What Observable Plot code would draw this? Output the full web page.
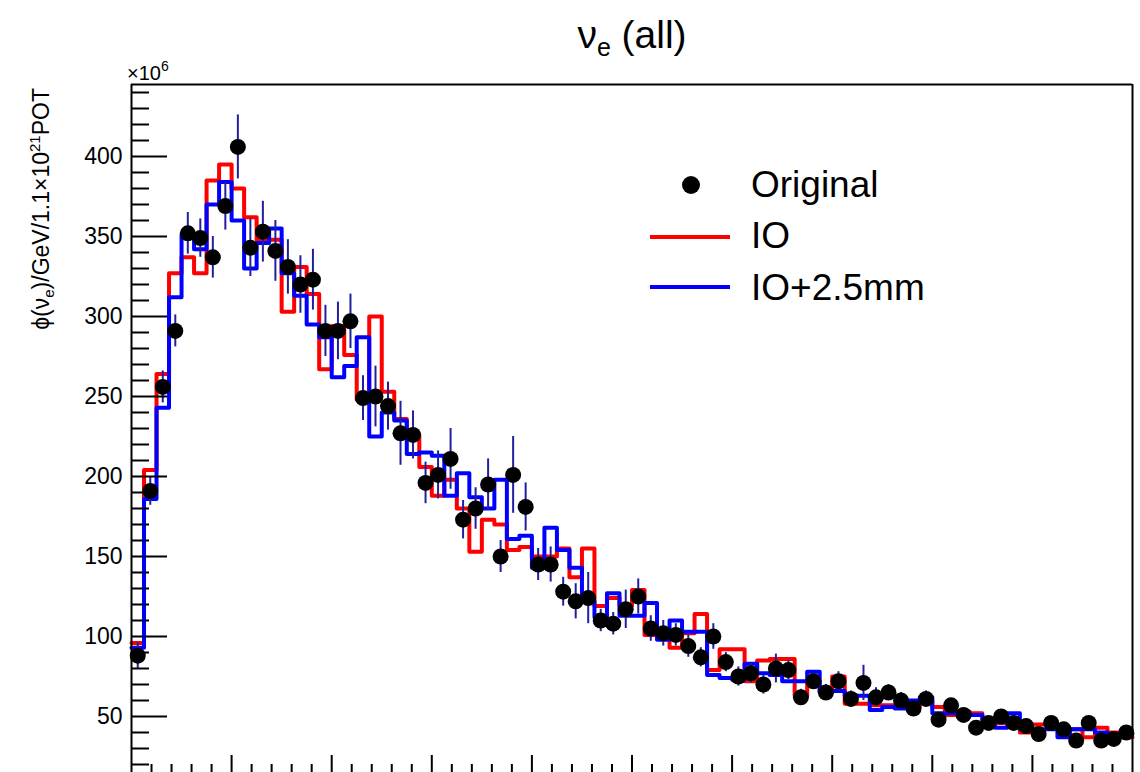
<!DOCTYPE html>
<html><head><meta charset="utf-8">
<script src="https://cdn.jsdelivr.net/npm/d3@7"></script>
<script src="https://cdn.jsdelivr.net/npm/@observablehq/plot@0.6"></script>
<style>
body{margin:0;background:#fff;}
#wrap{position:relative;width:1140px;height:772px;overflow:hidden;font-family:"Liberation Sans",Arial,Helvetica,sans-serif;}
#wrap svg.overlay{position:absolute;left:0;top:0;pointer-events:none;}
#plot{position:absolute;left:0;top:0;}
</style></head><body>
<div id="wrap"><div id="plot"></div></div>
<script>
// ---- data (80 bins, 0.125 wide, x from 0 to 10) ----
const binWidth = 0.125;
const original = [88,191,256,291,352,349,337,369,406,343,353,341,331,320,323,291,291,297,249,250,
  244,227,226,196,201,211,173,180,195,150,201,181,145,145,128,122,124,110,108,117,
  125,105,102,101,94,87,100,84,75,77,70,80,79,62,72,65,72,61,71,62,
  65,60,55,61,48,57,51,43,46,50,46,44,39,46,42,35,46,35,36,40];
const originalErr = [8,9,10,10,13,12,13,15,20,18,19,19,17,18,19,16,18,17,14,19,
  15,20,15,13,15,19,12,13,16,10,24,15,10,11,9,11,16,7,7,12,
  11,8,8,7,7,6,8,6,6,6,6,9,6,5,5,5,6,5,11,6,
  5,5,4,5,4,4,4,4,4,4,4,4,4,4,4,4,4,4,4,4];
const io = [96,204,264,327,337,327,385,395,380,362,348,348,303,331,314,267,294,276,248,300,
  253,236,226,206,188,198,180,153,173,170,154,156,150,150,155,137,155,119,124,119,
  129,101,104,93,102,114,79,92,92,72,85,86,86,63,72,65,75,58,58,57,
  57,57,56,60,56,51,53,52,44,46,45,40,45,45,42,42,37,43,40,37];
const io25 = [93,186,243,312,351,342,370,384,360,330,346,355,327,313,295,287,262,269,287,225,
  240,235,214,215,213,188,202,187,180,198,161,163,143,168,154,143,122,112,127,113,
  113,121,98,110,103,103,76,74,73,83,77,76,72,72,78,65,66,63,63,54,
  56,55,60,62,52,52,52,51,48,43,52,42,42,42,37,42,42,40,37,39];
const yMajorTicks = [50,100,150,200,250,300,350,400];
const yMinorTicks = d3.range(20, 445, 10).filter(v => v % 50 !== 0);
const xMajorTicks = d3.range(1, 10, 1);
const xMinorTicks = d3.range(1, 50).map(i => i * 0.2).filter((v, i) => (i + 1) % 5 !== 0);

// ---- derived tables ----
const pts = original.map((v, i) => ({x: (i + 0.5) * binWidth, x1: i * binWidth, x2: (i + 1) * binWidth, y: v, lo: v - originalErr[i], hi: v + originalErr[i]}));
const steps = arr => arr.map((v, i) => ({x: i * binWidth, y: v})).concat([{x: arr.length * binWidth, y: arr[arr.length - 1]}]);

const chart = Plot.plot({
  width: 1140, height: 772,
  marginLeft: 131, marginRight: 8, marginTop: 84, marginBottom: 0,
  style: {fontFamily: "Liberation Sans, Arial, sans-serif", color: "#000", background: "#fff"},
  x: {domain: [0, 10]},
  y: {domain: [15, 445]},
  marks: [
    Plot.line(steps(io), {x: "x", y: "y", curve: "step-after", stroke: "#ff0000", strokeWidth: 4}),
    Plot.line(steps(io25), {x: "x", y: "y", curve: "step-after", stroke: "#0000ff", strokeWidth: 4}),
    Plot.ruleX(pts, {x: "x", y1: "lo", y2: "hi", stroke: "#20209f", strokeWidth: 2}),
    Plot.ruleY(pts, {y: "y", x1: "x1", x2: "x2", stroke: "#000", strokeWidth: 2}),
    Plot.dot(pts, {x: "x", y: "y", r: 8, fill: "#000", stroke: "none"}),
    Plot.ruleX([0, 10], {stroke: "#000", strokeWidth: 2}),
    Plot.ruleY([445], {stroke: "#000", strokeWidth: 2}),
    Plot.axisY(yMinorTicks, {anchor: "right", frameAnchor: "left", tickSize: 17, strokeWidth: 2, fill: "none", label: null}),
    Plot.axisY(yMajorTicks, {anchor: "right", frameAnchor: "left", tickSize: 35, strokeWidth: 2, fill: "none", label: null}),
    Plot.axisY(yMajorTicks, {anchor: "left", tickSize: 0, tickPadding: 9, fontSize: 23, label: null, tickFormat: d => String(d)}),
    Plot.axisX(xMinorTicks, {anchor: "top", frameAnchor: "bottom", tickSize: 9, strokeWidth: 2, fill: "none", label: null}),
    Plot.axisX(xMajorTicks, {anchor: "top", frameAnchor: "bottom", tickSize: 18, strokeWidth: 2, fill: "none", label: null})
  ]
});
document.getElementById("plot").appendChild(chart);

// ---- titles and legend ----
const ns = "http://www.w3.org/2000/svg";
const ov = document.createElementNS(ns, "svg");
ov.setAttribute("class", "overlay");
ov.setAttribute("width", 1140);
ov.setAttribute("height", 772);
ov.innerHTML = `
<g font-family="Liberation Sans, Arial, sans-serif" fill="#000">
  <text x="632" y="48" text-anchor="middle" font-size="39">ν<tspan font-size="25" dy="8">e</tspan><tspan dy="-8"> (all)</tspan></text>
  <text x="127" y="80" font-size="20">×10<tspan font-size="14" dy="-9">6</tspan></text>
  <text transform="translate(49,88) rotate(-90)" text-anchor="end" font-size="23">ϕ(ν<tspan font-size="15" dy="5">e</tspan><tspan dy="-5">)/GeV/1.1×10</tspan><tspan font-size="15" dy="-9">21</tspan><tspan dy="9">POT</tspan></text>
  <circle cx="691" cy="185" r="9" fill="#000"></circle>
  <line x1="650" x2="730" y1="237" y2="237" stroke="#ff0000" stroke-width="4"></line>
  <line x1="650" x2="730" y1="287" y2="287" stroke="#0000ff" stroke-width="4"></line>
  <text x="751" y="197" font-size="37">Original</text>
  <text x="751" y="248" font-size="37">IO</text>
  <text x="751" y="300" font-size="37">IO+2.5mm</text>
</g>`;
document.getElementById("wrap").appendChild(ov);
</script>
</body></html>
